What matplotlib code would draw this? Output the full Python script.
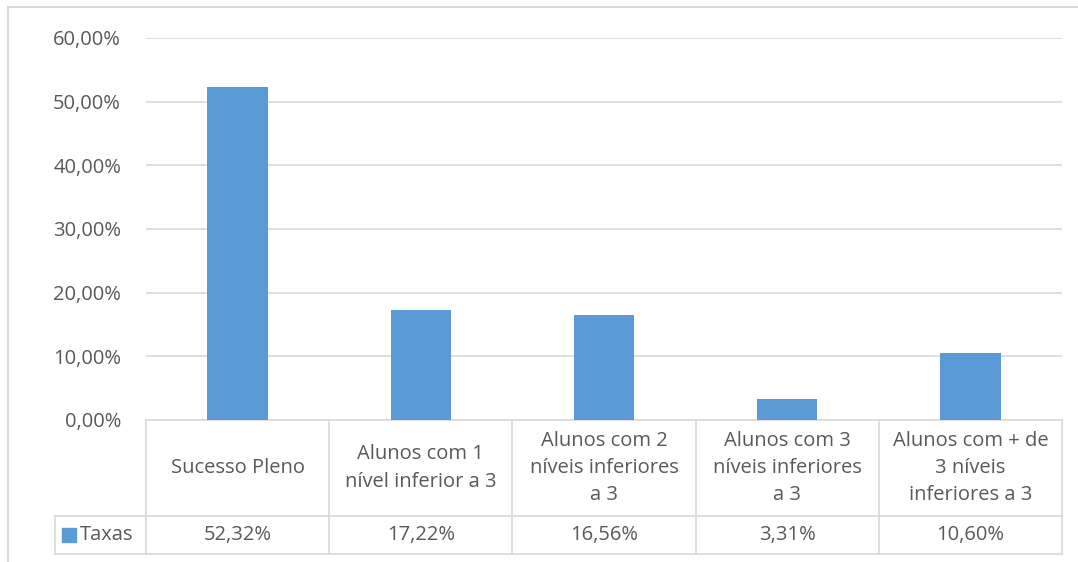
import matplotlib.pyplot as plt
from matplotlib.patches import Rectangle
from matplotlib.ticker import FuncFormatter

categorias = ['Sucesso Pleno',
              'Alunos com 1\nnível inferior a 3',
              'Alunos com 2\nníveis inferiores\na 3',
              'Alunos com 3\nníveis inferiores\na 3',
              'Alunos com + de\n3 níveis\ninferiores a 3']
taxas = [52.32, 17.22, 16.56, 3.31, 10.60]
serie = 'Taxas'

cor_barra = '#5b9bd5'
cor_texto = '#595959'
cor_linha = '#d9d9d9'
fs = 14.5

plt.rcParams['font.family'] = ['Open Sans', 'DejaVu Sans']

fig = plt.figure(figsize=(10.78, 5.62), dpi=100)
ax = fig.add_axes([146 / 1078, 142 / 562, 916 / 1078, 382 / 562])

x = range(len(categorias))
ax.bar(x, taxas, width=0.33, color=cor_barra, zorder=3)
ax.set_xlim(-0.5, len(categorias) - 0.5)
ax.set_ylim(0, 60)
ax.set_yticks(range(0, 61, 10))
ax.yaxis.set_major_formatter(FuncFormatter(lambda v, p: ('%.2f%%' % v).replace('.', ',')))
ax.tick_params(axis='y', length=0, pad=18, labelsize=fs, labelcolor=cor_texto)
ax.set_xticks([])
ax.grid(axis='y', color=cor_linha, linewidth=1.2, zorder=0)
for s in ax.spines.values():
    s.set_visible(False)

# tabela de dados por baixo do eixo
tr = ax.get_xaxis_transform()
y_cab = -0.2513
y_val = -0.3508
x_leg = -0.997
n = len(categorias)
kw = dict(transform=tr, color=cor_linha, linewidth=1.2, clip_on=False)
ax.plot([-0.5, n - 0.5], [0, 0], **kw)
ax.plot([x_leg, n - 0.5], [y_cab, y_cab], **kw)
ax.plot([x_leg, n - 0.5], [y_val, y_val], **kw)
ax.plot([x_leg, x_leg], [y_cab, y_val], **kw)
for i in range(n + 1):
    ax.plot([i - 0.5, i - 0.5], [0, y_val], **kw)

for i, (c, t) in enumerate(zip(categorias, taxas)):
    ax.text(i, y_cab / 2, c, transform=tr, ha='center', va='center',
            fontsize=fs, color=cor_texto, linespacing=1.48)
    ax.text(i, (y_cab + y_val) / 2, ('%.2f%%' % t).replace('.', ','), transform=tr,
            ha='center', va='center', fontsize=fs, color=cor_texto)

ax.add_patch(Rectangle((x_leg + 0.04, (y_cab + y_val) / 2 - 0.018), 0.076, 0.036,
                       transform=tr, color=cor_barra, clip_on=False))
ax.text(x_leg + 0.135, (y_cab + y_val) / 2, serie, transform=tr, ha='left', va='center',
        fontsize=fs, color=cor_texto)

# moldura do gráfico (direita e baixo ficam fora da imagem)
fig.patches.append(Rectangle((8 / 1078, -10 / 562), 1100 / 1078, 565 / 562,
                             transform=fig.transFigure, fill=False,
                             edgecolor=cor_linha, linewidth=1.5))

fig.savefig('out.png', dpi=100)
